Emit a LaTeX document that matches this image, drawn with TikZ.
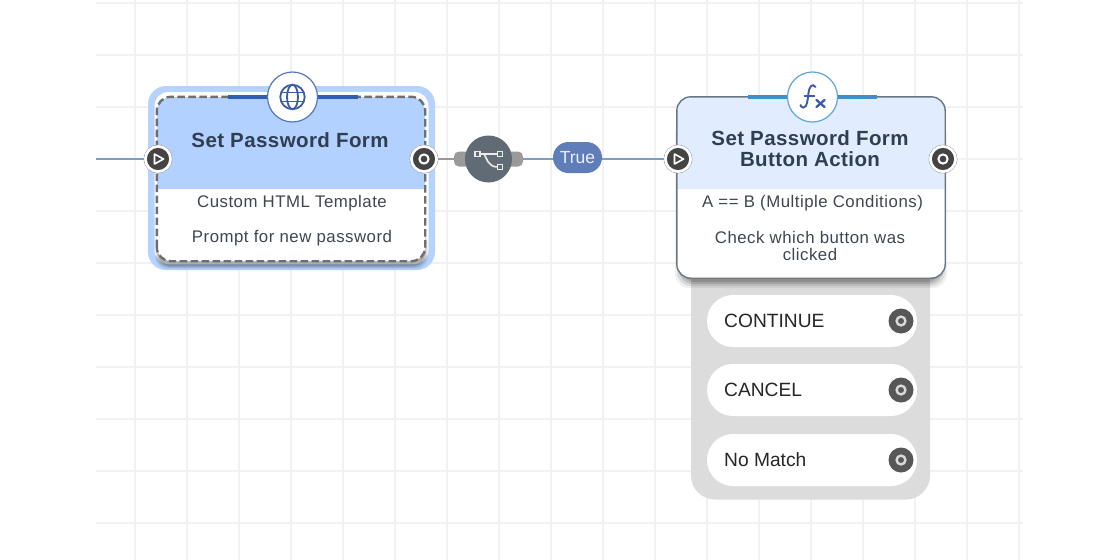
\documentclass[tikz,border=0pt]{standalone}
\usepackage{fontspec}
\setmainfont{Liberation Sans}
\newfontfamily\spacedreg[LetterSpace=3]{Liberation Sans}
\newfontfamily\spacedbold[LetterSpace=2]{Liberation Sans Bold}
\usetikzlibrary{shapes.misc,calc}
\definecolor{gridc}{HTML}{F1F1F1}
\definecolor{halo}{HTML}{B5D3FF}
\definecolor{headA}{HTML}{B3D1FE}
\definecolor{headB}{HTML}{E1EDFF}
\definecolor{titlec}{HTML}{2F3E50}
\definecolor{bodyc}{HTML}{3F4650}
\definecolor{edgec}{HTML}{6B7684}
\definecolor{dashc}{HTML}{6E6E6E}
\definecolor{tabA}{HTML}{2F5FB5}
\definecolor{tabB}{HTML}{3B8FD0}
\definecolor{iconA}{HTML}{3D5AA8}
\definecolor{ringA}{HTML}{5578B8}
\definecolor{linkc}{HTML}{7F9CC8}
\definecolor{badgec}{HTML}{5F7DB8}
\definecolor{forkc}{HTML}{616B75}
\definecolor{stubc}{HTML}{9A9A9A}
\definecolor{panelc}{HTML}{DCDCDC}
\definecolor{portc}{HTML}{444444}
\tikzset{
  x=1pt,y=-1pt,
  gridline/.style={gridc,line width=2pt},
  titletext/.style={text=titlec,font=\fontsize{20.5}{21}\spacedbold\selectfont,align=center,inner sep=0pt},
  bodytext/.style={text=bodyc,font=\fontsize{16.8}{17}\spacedreg\selectfont,align=center,inner sep=0pt},
  pilltext/.style={text=black!85,font=\fontsize{19.2}{20}\selectfont,inner sep=0pt,anchor=west},
  portbase/.style={circle,fill=portc,draw=white,line width=2.6pt,minimum size=25pt,inner sep=0pt},
  portrim/.style={circle,draw=black!35,line width=.7pt,minimum size=28pt,inner sep=0pt},
  iconcircle/.style={circle,fill=white,line width=1.2pt,minimum size=50pt,inner sep=0pt},
  pillbox/.style={rounded rectangle,fill=white,minimum width=210pt,minimum height=52pt,inner sep=0pt},
  pillport/.style={circle,fill=portc!90!white,minimum size=25pt,inner sep=0pt},
  link/.style={linkc,line width=2.5pt},
  stub/.style={stubc,line width=2.5pt},
}
\newcommand{\inport}[2]{%
  \node[portrim] at (#2) {};
  \node[portbase] (#1) at (#2) {};
  \draw[white,line width=1.6pt,line join=round] ($(#1)+(-3.5,-5)$) -- ($(#1)+(5.5,0)$) -- ($(#1)+(-3.5,5)$) -- cycle;
}
\newcommand{\outport}[2]{%
  \node[portrim] at (#2) {};
  \node[portbase] (#1) at (#2) {};
  \draw[white,line width=2pt] (#1) circle (4.6pt);
}
\newcommand{\pillrow}[3]{%
  \node[pillbox] (#1) at (812,#2) {};
  \node[pilltext] (#1t) at (724,#2) {#3};
  \node[pillport] (#1p) at (901,#2) {};
  \draw[white!85!black,line width=2.4pt] (#1p) circle (4.4pt);
  \fill[portc!90!white] (#1p) circle (1.7pt);
}
\begin{document}
\begin{tikzpicture}
\useasboundingbox (0,0) rectangle (1120,560);
\fill[white] (0,0) rectangle (1120,560);
% grid
\foreach \gx in {135,187,...,1019} \draw[gridline] (\gx,0) -- (\gx,560);
\foreach \gy in {3,55,...,523} \draw[gridline] (96,\gy) -- (1023,\gy);

% grey outcome panel
\node[fill=panelc,rounded corners=24pt,minimum width=239pt,minimum height=239pt,inner sep=0pt] (panel) at (810.5,380) {};

% left node
\node[fill=halo,rounded corners=18pt,minimum width=287pt,minimum height=184pt,inner sep=0pt] (halo1) at (291.5,178) {};
\node[fill=white,rounded corners=14pt,minimum width=274pt,minimum height=172pt,inner sep=0pt] (halo2) at (291.5,178) {};
\foreach \gs/\go in {0/.06,1/.08,2/.10,3/.12}
  \fill[black,opacity=\go,rounded corners=12pt] ({155+\gs},230) rectangle ({428-\gs},{269-\gs});
\node[fill=white,rounded corners=14pt,minimum width=268pt,minimum height=164pt,inner sep=0pt] (form) at (291,179) {};
\path[fill=headA,rounded corners=14pt] (157,189) -- (157,97) -- (425,97) -- (425,189);
\draw[dashc,line width=2.4pt,dash pattern=on 7.5pt off 3.5pt,rounded corners=14pt] (form.south west) rectangle (form.north east);
\draw[tabA,line width=4pt] (228,97) -- (358,97);
\node[iconcircle,draw=ringA] (formicon) at (292.5,97) {};
\begin{scope}[iconA,line width=1.8pt,shift={(formicon.center)}]
  \draw (0,0) circle (12.2pt);
  \draw (0,0) ellipse (5.5pt and 12.2pt);
  \draw (-11,-4.5) -- (11,-4.5);
  \draw (-11,4.5) -- (11,4.5);
\end{scope}
\node[titletext] (formtitle) at (290,140) {Set Password Form};
\node[bodytext] (formb1) at (292,203) {Custom HTML Template};
\node[bodytext] (formb2) at (292,238.5) {Prompt for new password};

% right node
\foreach \gs/\go in {0/.06,2/.09,4/.12,6/.15}
  \fill[black,opacity=\go,rounded corners=14pt] ({677+\gs-2},120) rectangle ({945-\gs+2},{288-\gs});
\node[fill=white,rounded corners=14pt,minimum width=268pt,minimum height=181pt,inner sep=0pt] (action) at (811,187.5) {};
\path[fill=headB,rounded corners=14pt] (677,189) -- (677,97) -- (945,97) -- (945,189);
\draw[edgec,line width=1.4pt,rounded corners=14pt] (action.south west) rectangle (action.north east);
\draw[tabB,line width=4pt] (748,97) -- (877,97);
\node[iconcircle,draw=tabB!80!white] (actionicon) at (812.5,97) {};
\begin{scope}[iconA,line cap=round,shift={(actionicon.center)}]
  \draw[line width=1.9pt] (3,-10) .. controls (0,-14) and (-3,-11) .. (-4,-4) .. controls (-5,3) and (-5,10) .. (-9,10.5) .. controls (-11,10.5) and (-12,9) .. (-12,8);
  \draw[line width=1.9pt] (-8,-1) -- (2,-1);
  \draw[line width=2.3pt] (4,3) -- (12,10);
  \draw[line width=2.3pt] (12,3) -- (4,10);
\end{scope}
\node[titletext] (actiontitle) at (810,149) {Set Password Form\\Button Action};
\node[bodytext] (actionb1) at (812.5,203) {A == B (Multiple Conditions)};
\node[bodytext] (actionb2) at (810,246) {Check which button was\\clicked};

% pills
\pillrow{pa}{321}{CONTINUE}
\pillrow{pb}{390}{CANCEL}
\pillrow{pc}{460}{No Match}

% ports
\inport{formin}{158,159}
\outport{formout}{424,159}
\inport{actionin}{678,159}
\outport{actionout}{943,159}

% connectors
\coordinate (incoming) at (96,159);
\node[fill=stubc,rounded corners=5pt,minimum width=69pt,minimum height=15pt,inner sep=0pt] (forkpill) at (488.5,159) {};
\draw[link] (incoming) -- (formin);
\draw[stub] (formout) -- (forkpill);
\draw[link] (forkpill) -- (actionin);
\node[circle,fill=forkc,minimum size=47pt,inner sep=0pt] (fork) at (488.5,159) {};
\begin{scope}[white!92!black,line width=1.6pt,shift={(fork.center)}]
  \draw (-13.5,-7.5) rectangle (-8.5,-2.5);
  \draw (9,-7.5) rectangle (14,-2.5);
  \draw (9,5.5) rectangle (14,10.5);
  \draw (-8.5,-5) -- (9,-5);
  \draw (-4.5,-5) .. controls (-2,-2) and (-1,8) .. (9,8);
\end{scope}
\node[rounded rectangle,fill=badgec,text=white!88!badgec,minimum width=49pt,minimum height=31pt,inner sep=0pt,font=\fontsize{17.5}{18}\selectfont] (truebadge) at (577.5,157.5) {True};
\end{tikzpicture}
\end{document}
